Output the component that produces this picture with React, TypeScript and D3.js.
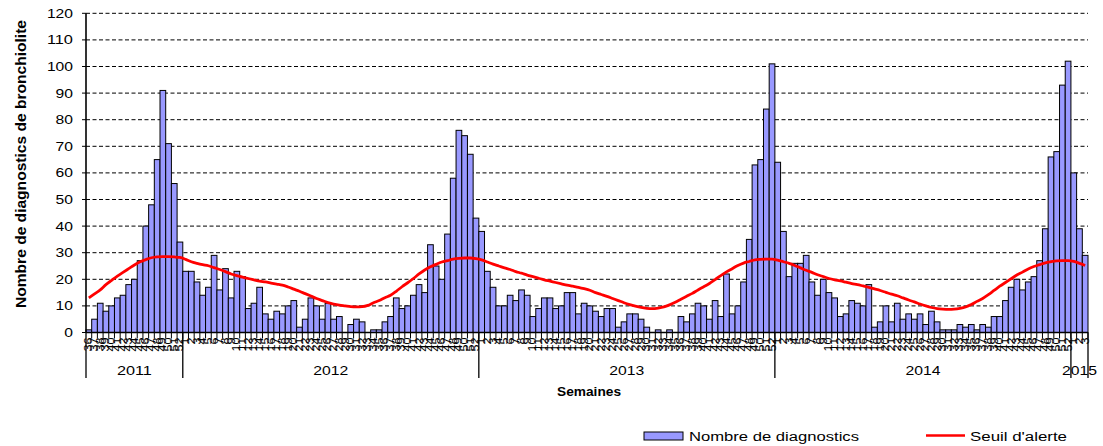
import React from "react";
import * as d3 from "d3";

// ---- Data ----
const years = [2011, 2012, 2013, 2014, 2015];
const firstWeek = [36, 1, 1, 1, 1];
const lastWeek = [52, 52, 52, 52, 3];

const diagnostics2011 = [1, 5, 11, 8, 10, 13, 14, 18, 20, 27, 40, 48, 65, 91, 71, 56, 34];
const diagnostics2012 = [23, 23, 19, 14, 17, 29, 16, 24, 13, 23, 21, 9, 11, 17, 7, 5, 8, 7, 10, 12, 2, 5, 13, 10, 5, 11, 5, 6, 0, 3, 5, 4, 0, 1, 1, 4, 6, 13, 9, 10, 14, 18, 15, 33, 25, 20, 37, 58, 76, 74, 67, 43];
const diagnostics2013 = [38, 23, 17, 10, 10, 14, 12, 16, 14, 6, 9, 13, 13, 9, 10, 15, 15, 7, 11, 10, 8, 6, 9, 9, 2, 4, 7, 7, 5, 2, 0, 1, 0, 1, 0, 6, 4, 7, 11, 10, 5, 12, 6, 22, 7, 10, 19, 35, 63, 65, 84, 101];
const diagnostics2014 = [64, 38, 21, 26, 26, 29, 19, 14, 20, 15, 13, 6, 7, 12, 11, 10, 18, 2, 4, 10, 4, 11, 5, 7, 5, 7, 3, 8, 4, 1, 1, 1, 3, 2, 3, 1, 3, 2, 6, 6, 12, 17, 20, 16, 19, 21, 27, 39, 66, 68, 93, 102];
const diagnostics2015 = [60, 39, 29];

const seuil2011 = [13.0, 14.5, 16.0, 18.0, 19.6, 21.2, 22.6, 24.0, 25.4, 26.6, 27.4, 28.1, 28.4, 28.5, 28.5, 28.4, 28.2];
const seuil2012 = [27.5, 26.6, 26.0, 25.5, 25.1, 24.4, 23.7, 22.9, 22.0, 21.4, 20.8, 20.3, 19.8, 19.3, 19.0, 18.6, 18.2, 17.8, 17.1, 16.3, 15.5, 14.6, 13.7, 12.8, 12.0, 11.2, 10.7, 10.3, 10.0, 9.7, 9.6, 9.7, 10.2, 11.2, 12.0, 13.1, 14.0, 15.5, 17.2, 18.7, 20.3, 22.0, 23.5, 24.7, 25.6, 26.5, 27.0, 27.6, 27.9, 28.0, 28.0, 27.8];
const seuil2013 = [27.3, 26.5, 25.7, 25.0, 24.3, 23.7, 22.9, 22.3, 21.6, 21.0, 20.4, 19.8, 19.3, 18.8, 18.3, 17.8, 17.4, 17.0, 16.5, 15.9, 15.0, 14.3, 13.6, 12.8, 12.0, 11.2, 10.5, 9.9, 9.4, 9.1, 9.0, 9.2, 9.6, 10.4, 11.4, 12.5, 13.6, 14.7, 16.0, 17.2, 18.4, 19.9, 21.4, 22.8, 24.0, 25.2, 26.1, 26.7, 27.3, 27.5, 27.6, 27.6];
const seuil2014 = [27.2, 26.6, 26.0, 25.2, 24.3, 23.4, 22.6, 21.7, 21.0, 20.3, 19.8, 19.4, 18.9, 18.4, 18.0, 17.5, 17.0, 16.4, 15.8, 15.1, 14.4, 13.8, 13.0, 12.2, 11.5, 10.7, 10.0, 9.4, 9.0, 8.8, 8.7, 8.8, 9.1, 9.6, 10.5, 11.7, 12.8, 14.2, 15.8, 17.4, 18.8, 20.2, 21.6, 22.7, 23.9, 24.8, 25.5, 26.2, 26.6, 26.9, 27.0, 27.0];
const seuil2015 = [26.7, 26.0, 25.2];

const yTicks = [0, 10, 20, 30, 40, 50, 60, 70, 80, 90, 100, 110, 120];

const diagnostics = [...diagnostics2011, ...diagnostics2012, ...diagnostics2013, ...diagnostics2014, ...diagnostics2015];
const seuil = [...seuil2011, ...seuil2012, ...seuil2013, ...seuil2014, ...seuil2015];

type Week = { year: number; week: number; idx: number };
const weeks: Week[] = [];
years.forEach((y, k) => {
  for (let w = firstWeek[k]; w <= lastWeek[k]; w++) weeks.push({ year: y, week: w, idx: weeks.length });
});

const FONT = "'Liberation Sans', Arial, Helvetica, sans-serif";

export default function App() {
  const W = 1103, H = 446;
  const left = 86, right = 1088, top = 13.3, bottom = 332.5;

  const x = d3.scaleBand<number>().domain(weeks.map((d) => d.idx)).range([left, right]).paddingInner(0).paddingOuter(0);
  const y = d3.scaleLinear().domain([0, 120]).range([bottom, top]);
  const bw = x.bandwidth();

  const line = d3
    .line<number>()
    .x((_, i) => (x(i) as number) + bw / 2)
    .y((v) => y(v))
    .curve(d3.curveMonotoneX);

  const yearStarts = years.map((yr) => weeks.find((w) => w.year === yr)!.idx);
  const yearEnds = years.map((yr) => {
    const ws = weeks.filter((w) => w.year === yr);
    return ws[ws.length - 1].idx;
  });

  return (
    <svg width={W} height={H} style={{ position: "absolute", left: 0, top: 0, background: "#fff" }} fontFamily={FONT}>
      {yTicks.filter((t) => t > 0).map((t) => (
        <line key={"g" + t} x1={left} x2={right} y1={y(t)} y2={y(t)} stroke="#000" strokeWidth={1} strokeDasharray="4,2.5" />
      ))}
      {diagnostics.map((v, i) =>
        v > 0 ? (
          <rect key={"b" + i} x={x(i) as number} y={y(v)} width={bw} height={y(0) - y(v)} fill="#9999FF" stroke="#000" strokeWidth={1} />
        ) : null
      )}
      <path d={line(seuil) || ""} fill="none" stroke="#FF0000" strokeWidth={2.8} strokeLinejoin="round" />

      <line x1={left} x2={left} y1={top} y2={bottom} stroke="#000" strokeWidth={1.6} />
      {yTicks.map((t) => {
        const s = String(t);
        return (
          <g key={"yt" + t}>
            <line x1={left - 4} x2={left} y1={y(t)} y2={y(t)} stroke="#000" strokeWidth={1} />
            <text x={73} y={y(t) + 4.5} textAnchor="end" fontSize={12.5} textLength={s.length * 8.7} lengthAdjust="spacingAndGlyphs" fill="#000">
              {s}
            </text>
          </g>
        );
      })}
      <text
        transform={`translate(26,${164}) rotate(-90)`}
        textAnchor="middle"
        fontSize={15.5}
        fontWeight="bold"
        textLength={288}
        lengthAdjust="spacingAndGlyphs"
        fill="#000"
      >
        Nombre de diagnostics de bronchiolite
      </text>

      <line x1={left} x2={right} y1={bottom} y2={bottom} stroke="#000" strokeWidth={1.6} />
      {weeks.map((w) => (
        <line key={"xt" + w.idx} x1={(x(w.idx) as number) + bw} x2={(x(w.idx) as number) + bw} y1={bottom} y2={bottom + 6} stroke="#000" strokeWidth={1} />
      ))}
      {weeks.map((w) => {
        const s = String(w.week);
        const cx = (x(w.idx) as number) + bw / 2;
        return (
          <text
            key={"xl" + w.idx}
            transform={`translate(${cx + 3.5},${bottom + 5}) rotate(-90)`}
            textAnchor="end"
            fontSize={10}
            textLength={s.length * 7}
            lengthAdjust="spacingAndGlyphs"
            fill="#000"
          >
            {s}
          </text>
        );
      })}
      {yearStarts.map((s, k) => (
        <line key={"ys" + k} x1={x(s) as number} x2={x(s) as number} y1={bottom} y2={378} stroke="#000" strokeWidth={1.3} />
      ))}
      <line x1={(x(yearEnds[yearEnds.length - 1]) as number) + bw} x2={(x(yearEnds[yearEnds.length - 1]) as number) + bw} y1={bottom} y2={378} stroke="#000" strokeWidth={1.3} />
      {years.map((yr, k) => {
        const x0 = x(yearStarts[k]) as number;
        const x1 = (x(yearEnds[k]) as number) + bw;
        return (
          <text key={"yl" + yr} x={(x0 + x1) / 2} y={375} textAnchor="middle" fontSize={13} textLength={35} lengthAdjust="spacingAndGlyphs" fill="#000">
            {yr}
          </text>
        );
      })}
      <text x={589} y={396} textAnchor="middle" fontSize={13} fontWeight="bold" textLength={64} lengthAdjust="spacingAndGlyphs" fill="#000">
        Semaines
      </text>

      <rect x={644} y={432} width={39} height={8} fill="#9999FF" stroke="#000" strokeWidth={1} />
      <text x={689} y={440.5} fontSize={12.5} textLength={170} lengthAdjust="spacingAndGlyphs" fill="#000">
        Nombre de diagnostics
      </text>
      <line x1={926} x2={965} y1={435.5} y2={435.5} stroke="#FF0000" strokeWidth={2.6} />
      <text x={970} y={440.5} fontSize={12.5} textLength={97} lengthAdjust="spacingAndGlyphs" fill="#000">
        Seuil d'alerte
      </text>
    </svg>
  );
}
